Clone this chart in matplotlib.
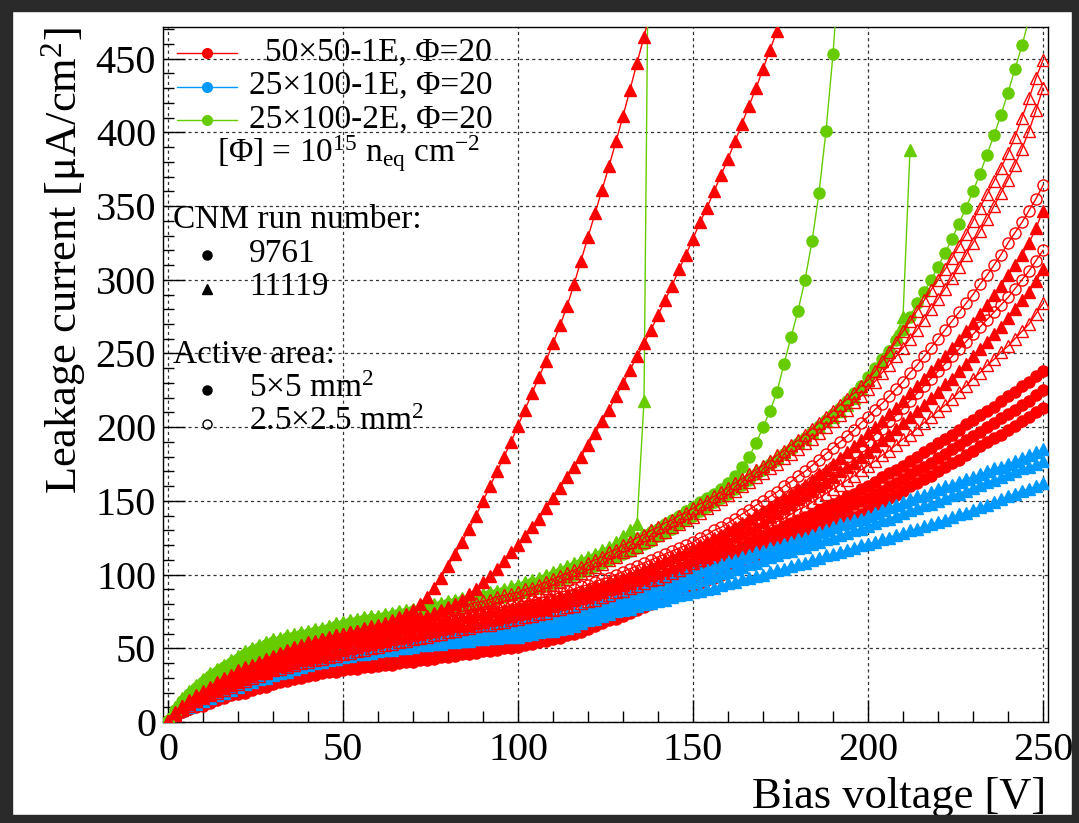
import matplotlib
matplotlib.use("Agg")
import matplotlib.pyplot as plt
from matplotlib.patches import Rectangle

plt.rcParams['font.family'] = ['Liberation Serif', 'DejaVu Serif']
plt.rcParams['mathtext.fontset'] = 'custom'
plt.rcParams['mathtext.rm'] = 'Liberation Serif'
plt.rcParams['mathtext.it'] = 'Liberation Serif:italic'

W, H = 1079, 823

# Bias sweep: 2 V steps from 0 V to 250 V
VOLTS = list(range(0, 252, 2))

RED = '#ff0000'
BLUE = '#0099ff'
GREEN = '#66cc00'

# ---- 50x50-1E (red) -------------------------------------------------------
# run 11119, 5x5 mm2 (filled triangles) - early breakdown
r_tri_bd1 = [1, 6, 10, 14, 17, 20, 23, 26, 29, 31,
             34, 36, 38, 40, 42, 44, 46, 48, 50, 51,
             53, 54, 56, 57, 59, 60, 61, 62, 64, 65,
             66, 67, 69, 71, 73, 76, 80, 85, 91, 98,
             106, 114, 122, 131, 140, 150, 160, 170, 180, 190,
             201, 212, 223, 234, 245, 257, 269, 282, 297, 313,
             329, 345, 361, 377, 394, 411, 429, 447, 465, 483]
r_tri_bd2 = [1, 6, 10, 13, 16, 19, 22, 25, 27, 30,
             32, 34, 36, 38, 40, 42, 44, 45, 47, 48,
             50, 51, 53, 54, 56, 57, 58, 59, 61, 62,
             63, 64, 65, 66, 67, 69, 70, 72, 74, 76,
             78, 80, 83, 87, 90, 95, 99, 104, 109, 115,
             120, 126, 132, 138, 145, 152, 159, 166, 173, 180,
             188, 196, 204, 212, 221, 230, 239, 248, 257, 266,
             276, 286, 296, 307, 317, 328, 339, 349, 360, 371,
             382, 394, 406, 418, 430, 443, 456, 469, 482]
r_tri_a = [1, 6, 9, 12, 15, 18, 21, 23, 26, 28,
           30, 32, 34, 36, 38, 40, 42, 43, 45, 46,
           48, 49, 51, 52, 54, 55, 56, 57, 58, 59,
           60, 61, 62, 63, 64, 65, 65, 66, 67, 68,
           69, 70, 71, 72, 73, 74, 75, 75, 76, 77,
           78, 79, 80, 81, 82, 83, 85, 86, 87, 89,
           90, 92, 93, 95, 96, 98, 100, 102, 104, 106,
           108, 110, 112, 114, 116, 118, 120, 122, 125, 127,
           130, 132, 135, 138, 141, 143, 146, 149, 152, 155,
           158, 161, 164, 168, 171, 175, 179, 183, 187, 191,
           196, 200, 204, 209, 213, 218, 223, 228, 233, 238,
           243, 248, 254, 259, 265, 271, 277, 283, 290, 296,
           303, 310, 317, 325, 335, 347]
r_tri_b = [1, 5, 9, 12, 14, 17, 19, 21, 23, 25,
           27, 29, 31, 33, 34, 36, 38, 39, 40, 42,
           43, 44, 45, 46, 47, 49, 50, 51, 52, 53,
           54, 55, 56, 57, 58, 59, 60, 61, 62, 63,
           64, 65, 65, 66, 67, 68, 69, 70, 71, 72,
           73, 74, 75, 76, 77, 79, 80, 81, 83, 84,
           85, 87, 88, 90, 91, 93, 94, 96, 98, 100,
           101, 103, 105, 107, 109, 112, 114, 116, 118, 121,
           123, 126, 128, 131, 133, 136, 139, 142, 145, 148,
           151, 154, 157, 160, 163, 166, 170, 173, 176, 180,
           183, 187, 191, 195, 199, 203, 207, 211, 215, 220,
           224, 229, 233, 238, 243, 248, 253, 258, 263, 268,
           274, 280, 286, 292, 299, 307]
# run 11119, 2.5x2.5 mm2 (open triangles)
r_otri_a = [1, 7, 11, 15, 18, 21, 24, 27, 30, 32,
            35, 37, 39, 41, 43, 45, 47, 49, 51, 52,
            54, 55, 56, 58, 59, 60, 61, 62, 63, 64,
            65, 66, 67, 68, 69, 70, 71, 72, 73, 74,
            76, 77, 78, 80, 81, 82, 83, 85, 86, 87,
            88, 90, 91, 93, 95, 97, 99, 101, 103, 105,
            108, 110, 112, 115, 117, 120, 122, 125, 127, 130,
            132, 135, 137, 140, 142, 145, 148, 150, 153, 156,
            159, 162, 165, 168, 171, 174, 177, 181, 184, 188,
            191, 195, 199, 203, 207, 211, 215, 219, 223, 228,
            232, 238, 245, 251, 258, 265, 272, 279, 286, 293,
            300, 307, 315, 323, 331, 340, 349, 358, 367, 376,
            386, 397, 410, 423, 437, 449]
r_otri_b = [1, 6, 11, 14, 17, 20, 23, 26, 28, 31,
            33, 35, 37, 39, 41, 43, 45, 47, 49, 50,
            52, 53, 54, 56, 57, 58, 59, 60, 61, 62,
            63, 64, 65, 66, 67, 68, 69, 70, 71, 72,
            73, 74, 75, 76, 77, 78, 79, 81, 82, 83,
            84, 86, 87, 89, 91, 93, 95, 97, 99, 101,
            103, 105, 107, 110, 112, 115, 117, 119, 122, 124,
            127, 129, 132, 134, 137, 139, 142, 145, 148, 151,
            154, 157, 160, 163, 166, 169, 172, 175, 179, 182,
            185, 189, 192, 196, 200, 204, 208, 212, 217, 221,
            226, 231, 237, 242, 248, 254, 260, 266, 273, 280,
            287, 294, 301, 309, 317, 325, 333, 341, 350, 359,
            368, 378, 389, 401, 415, 430]
r_otri_c = [1, 5, 8, 11, 14, 16, 18, 20, 22, 24,
            26, 28, 30, 31, 33, 35, 36, 37, 39, 40,
            41, 42, 43, 44, 45, 46, 47, 48, 49, 50,
            51, 52, 53, 54, 55, 56, 57, 58, 59, 60,
            61, 62, 63, 64, 65, 66, 66, 67, 68, 69,
            70, 71, 72, 73, 74, 76, 77, 78, 79, 81,
            82, 83, 85, 86, 88, 89, 91, 92, 94, 96,
            97, 99, 101, 103, 105, 108, 110, 112, 114, 116,
            118, 121, 123, 126, 128, 130, 133, 136, 138, 141,
            144, 146, 149, 152, 155, 158, 161, 164, 167, 171,
            174, 177, 181, 184, 188, 192, 195, 199, 203, 207,
            211, 215, 219, 224, 228, 233, 237, 242, 246, 251,
            255, 260, 265, 270, 277, 284]
# run 9761, 2.5x2.5 mm2 (open circles)
r_ocir_a = [1, 6, 10, 13, 16, 19, 22, 24, 27, 29,
            31, 33, 35, 37, 39, 41, 43, 44, 46, 47,
            49, 50, 52, 53, 55, 56, 57, 58, 59, 60,
            61, 62, 63, 64, 65, 66, 67, 68, 69, 70,
            71, 72, 73, 74, 75, 76, 77, 77, 78, 79,
            80, 81, 82, 84, 85, 86, 88, 89, 90, 92,
            93, 95, 97, 98, 100, 102, 104, 106, 108, 110,
            112, 114, 116, 118, 120, 122, 125, 127, 130, 132,
            135, 138, 141, 144, 147, 150, 153, 156, 160, 163,
            167, 170, 174, 178, 182, 186, 190, 194, 198, 203,
            207, 212, 216, 221, 226, 231, 237, 242, 248, 254,
            260, 266, 272, 278, 284, 290, 297, 303, 310, 317,
            325, 332, 339, 347, 355, 364]
r_ocir_b = [1, 5, 9, 12, 15, 17, 20, 22, 24, 26,
            28, 30, 32, 34, 36, 38, 39, 41, 42, 44,
            45, 46, 47, 48, 49, 51, 52, 53, 54, 55,
            56, 57, 58, 59, 60, 61, 62, 63, 64, 65,
            66, 67, 67, 68, 69, 70, 71, 72, 73, 74,
            76, 77, 78, 79, 80, 82, 83, 84, 86, 87,
            88, 90, 91, 93, 94, 96, 98, 99, 101, 103,
            105, 107, 109, 111, 113, 116, 118, 120, 123, 125,
            128, 130, 133, 135, 138, 141, 144, 147, 150, 153,
            156, 159, 163, 166, 169, 173, 176, 180, 183, 187,
            190, 195, 199, 204, 208, 213, 218, 223, 228, 233,
            238, 243, 248, 253, 258, 263, 268, 273, 278, 283,
            288, 294, 300, 306, 313, 320]
# run 9761, 5x5 mm2 (filled circles)
r_cir_a = [1, 5, 8, 10, 12, 13, 15, 17, 18, 20,
           21, 22, 24, 25, 27, 28, 29, 30, 32, 33,
           34, 35, 36, 37, 37, 38, 39, 40, 40, 41,
           42, 43, 43, 44, 45, 45, 46, 47, 48, 49,
           50, 51, 51, 52, 53, 54, 55, 56, 57, 58,
           59, 60, 61, 62, 63, 64, 66, 67, 69, 70,
           72, 74, 76, 78, 80, 82, 84, 86, 89, 91,
           93, 95, 97, 100, 102, 104, 106, 108, 111, 113,
           115, 117, 119, 122, 124, 126, 128, 130, 133, 135,
           137, 139, 141, 144, 146, 148, 150, 153, 155, 158,
           160, 163, 166, 169, 171, 174, 177, 180, 183, 186,
           189, 192, 195, 198, 202, 205, 208, 211, 214, 218,
           221, 224, 228, 231, 235, 238]
r_cir_b = [1, 4, 7, 9, 11, 12, 14, 16, 17, 19,
           20, 21, 23, 24, 25, 27, 28, 29, 30, 31,
           32, 33, 34, 35, 35, 36, 37, 38, 38, 39,
           40, 41, 41, 42, 43, 43, 44, 45, 46, 46,
           47, 48, 48, 49, 50, 51, 51, 52, 53, 54,
           55, 56, 57, 58, 59, 60, 62, 63, 64, 66,
           67, 69, 71, 73, 75, 77, 79, 81, 83, 85,
           87, 89, 91, 93, 96, 98, 100, 102, 104, 106,
           108, 110, 112, 115, 117, 119, 121, 123, 126, 128,
           130, 132, 134, 137, 139, 141, 143, 145, 148, 150,
           152, 155, 157, 160, 162, 165, 168, 171, 173, 176,
           179, 182, 185, 188, 191, 194, 197, 200, 203, 206,
           209, 212, 215, 218, 222, 225]
r_cir_c = [1, 4, 7, 9, 10, 11, 13, 15, 16, 18,
           19, 20, 22, 23, 24, 26, 27, 28, 29, 30,
           31, 32, 33, 34, 34, 35, 36, 36, 37, 37,
           38, 39, 39, 40, 41, 41, 42, 42, 43, 44,
           44, 45, 46, 46, 47, 48, 48, 49, 50, 50,
           51, 52, 53, 54, 55, 56, 57, 59, 60, 61,
           63, 65, 67, 69, 70, 72, 74, 76, 78, 80,
           82, 84, 86, 88, 90, 92, 94, 96, 98, 100,
           102, 104, 106, 108, 110, 112, 114, 116, 118, 121,
           123, 125, 127, 129, 131, 133, 135, 137, 139, 141,
           144, 147, 149, 152, 154, 157, 160, 162, 165, 167,
           170, 173, 176, 178, 181, 184, 187, 190, 193, 195,
           198, 201, 204, 207, 210, 213]

# ---- 25x100-1E (blue), run 11119, 5x5 mm2 ----------------------------------
b_tri_a = [1, 6, 10, 13, 15, 18, 20, 22, 24, 26,
           29, 31, 32, 34, 36, 38, 39, 41, 42, 44,
           45, 46, 47, 48, 50, 51, 52, 52, 53, 54,
           55, 56, 57, 57, 58, 59, 60, 60, 61, 61,
           62, 63, 63, 64, 64, 65, 66, 66, 67, 67,
           68, 69, 69, 70, 71, 72, 73, 74, 75, 77,
           78, 80, 81, 83, 84, 86, 88, 89, 91, 92,
           94, 95, 97, 98, 100, 101, 103, 104, 106, 107,
           109, 110, 112, 113, 115, 116, 118, 119, 121, 122,
           124, 125, 127, 129, 130, 132, 134, 135, 137, 138,
           140, 142, 144, 146, 147, 149, 151, 153, 154, 156,
           158, 160, 161, 163, 165, 166, 168, 170, 172, 173,
           175, 177, 179, 181, 183, 185]
b_tri_b = [1, 6, 9, 12, 14, 16, 18, 20, 22, 24,
           27, 29, 30, 32, 34, 36, 37, 39, 40, 42,
           43, 44, 45, 46, 47, 48, 49, 50, 51, 51,
           52, 53, 53, 54, 54, 55, 56, 56, 57, 57,
           58, 58, 59, 59, 60, 60, 61, 61, 62, 62,
           63, 64, 64, 65, 66, 67, 68, 69, 70, 71,
           73, 74, 76, 77, 79, 80, 82, 83, 85, 86,
           88, 89, 91, 92, 94, 95, 96, 98, 99, 101,
           102, 104, 105, 107, 108, 110, 112, 113, 115, 116,
           118, 119, 121, 122, 124, 125, 127, 128, 130, 131,
           133, 135, 137, 138, 140, 142, 144, 145, 147, 148,
           150, 152, 154, 155, 157, 159, 161, 163, 164, 166,
           168, 170, 172, 173, 175, 177]
b_tri_c = [1, 5, 8, 10, 12, 14, 16, 18, 20, 22,
           24, 26, 27, 29, 30, 32, 33, 34, 36, 37,
           39, 40, 41, 42, 43, 44, 45, 46, 46, 47,
           48, 49, 49, 50, 50, 51, 52, 52, 53, 53,
           54, 54, 55, 55, 56, 56, 57, 57, 58, 58,
           58, 59, 60, 61, 62, 62, 63, 64, 65, 67,
           69, 70, 72, 73, 75, 76, 77, 79, 80, 81,
           82, 83, 85, 86, 87, 88, 89, 90, 91, 93,
           94, 95, 97, 98, 99, 100, 102, 103, 104, 106,
           107, 108, 110, 111, 113, 114, 115, 117, 118, 120,
           121, 122, 124, 125, 127, 128, 130, 131, 133, 134,
           136, 137, 139, 141, 142, 144, 146, 147, 149, 151,
           153, 155, 157, 158, 160, 162]

# ---- 25x100-2E (green) -----------------------------------------------------
g_tri_bd1 = [2, 10, 16, 21, 25, 29, 33, 36, 39, 42,
             45, 48, 50, 52, 54, 56, 57, 59, 60, 61,
             62, 63, 64, 65, 67, 68, 69, 70, 71, 72,
             72, 73, 74, 75, 76, 77, 78, 79, 80, 81,
             82, 83, 84, 85, 86, 87, 88, 89, 90, 92,
             93, 95, 96, 98, 100, 102, 104, 106, 108, 110,
             112, 114, 117, 119, 122, 126, 130, 134, 218, 720]
g_tri_bd2 = [2, 9, 15, 20, 24, 28, 32, 35, 38, 41,
             44, 47, 49, 51, 53, 55, 56, 58, 59, 60,
             61, 62, 63, 64, 66, 67, 68, 69, 70, 71,
             71, 72, 73, 74, 75, 76, 77, 78, 79, 80,
             81, 82, 83, 84, 85, 86, 87, 88, 89, 90,
             92, 93, 95, 96, 98, 100, 102, 104, 106, 108,
             110, 112, 114, 116, 118, 120, 122, 125, 127, 130,
             132, 135, 137, 140, 143, 146, 148, 151, 153, 156,
             159, 162, 165, 168, 171, 174, 177, 180, 183, 187,
             190, 193, 197, 200, 204, 207, 211, 215, 220, 226,
             232, 238, 245, 252, 262, 275, 388]
g_cir_bd = [1, 8, 14, 19, 23, 27, 31, 34, 37, 40,
            43, 46, 48, 50, 52, 54, 55, 57, 58, 59,
            60, 61, 62, 63, 65, 66, 67, 68, 69, 70,
            70, 71, 72, 73, 74, 75, 76, 77, 78, 79,
            80, 81, 82, 83, 84, 85, 86, 87, 88, 89,
            91, 92, 94, 95, 97, 99, 101, 103, 105, 107,
            109, 111, 113, 115, 117, 119, 121, 124, 126, 129,
            131, 134, 137, 140, 143, 146, 149, 152, 155, 158,
            162, 167, 173, 180, 189, 200, 211, 224, 243, 261,
            279, 300, 326, 359, 401, 453, 520]
g_cir_a = [1, 7, 12, 17, 21, 25, 28, 31, 34, 37,
           40, 42, 44, 46, 48, 50, 51, 53, 54, 55,
           57, 58, 59, 60, 61, 62, 63, 64, 65, 66,
           67, 68, 69, 70, 71, 72, 73, 74, 75, 76,
           77, 78, 79, 80, 81, 82, 83, 84, 85, 86,
           87, 88, 90, 91, 93, 94, 96, 98, 100, 102,
           104, 106, 108, 110, 112, 114, 116, 118, 121, 123,
           126, 128, 131, 134, 137, 140, 143, 146, 149, 152,
           155, 158, 161, 164, 168, 171, 175, 178, 182, 185,
           189, 193, 197, 201, 205, 209, 213, 218, 223, 228,
           234, 240, 246, 252, 259, 266, 275, 284, 292, 300,
           309, 318, 328, 338, 349, 360, 372, 385, 398, 412,
           427, 443, 459, 477, 495, 515]

fig = plt.figure(figsize=(W / 100, H / 100), dpi=100)
ax = fig.add_axes([163 / W, 1 - 722 / H, (1048 - 163) / W, (722 - 27) / H])
ax.set_xlim(-1.43, 251.43)
ax.set_ylim(0, 471.5)

ax.set_xticks(range(0, 251, 50))
ax.set_xticks(range(0, 251, 10), minor=True)
ax.set_yticks(range(0, 451, 50))
ax.set_yticks(range(0, 471, 10), minor=True)
ax.tick_params(which='major', direction='in', length=16, width=1.0,
               labelsize=29, top=False, right=False)
ax.tick_params(which='minor', direction='in', length=8, width=1.0,
               top=False, right=False)
ax.tick_params(axis='x', which='major', pad=7)
ax.tick_params(axis='y', which='major', pad=5)
for s in ax.spines.values():
    s.set_linewidth(1.0)
    s.set_color('black')
ax.grid(True, which='major', color='#333333', lw=0.9,
        linestyle=(0, (2.5, 2.5)), zorder=0)
ax.set_axisbelow(True)


def draw(vals, color, marker, filled, ms, z):
    xs = VOLTS[:len(vals)]
    ax.plot(xs, vals, color=color, lw=1.0, marker=marker, ms=ms,
            mfc=color if filled else 'none', mec=color, mew=1.0, zorder=z)


TRI = 8.2
CIR = 8.0
# drawing order: filled-circle reds, blue, remaining reds, green, top reds
draw(r_cir_a, RED, 'o', True, CIR, 2)
draw(r_cir_b, RED, 'o', True, CIR, 2)
draw(r_cir_c, RED, 'o', True, CIR, 2)
draw(b_tri_a, BLUE, '^', True, TRI, 3)
draw(b_tri_b, BLUE, '^', True, TRI, 3)
draw(b_tri_c, BLUE, '^', True, TRI, 3)
draw(r_tri_a, RED, '^', True, TRI, 4)
draw(r_tri_b, RED, '^', True, TRI, 4)
draw(r_ocir_a, RED, 'o', False, CIR, 4)
draw(r_ocir_b, RED, 'o', False, CIR, 4)
draw(r_otri_c, RED, '^', False, TRI, 4)
draw(g_cir_a, GREEN, 'o', True, CIR, 5)
draw(g_cir_bd, GREEN, 'o', True, CIR, 5)
draw(g_tri_bd2, GREEN, '^', True, TRI, 5)
draw(g_tri_bd1, GREEN, '^', True, TRI, 5)
draw(r_otri_a, RED, '^', False, TRI, 6)
draw(r_otri_b, RED, '^', False, TRI, 6)
draw(r_tri_bd1, RED, '^', True, TRI, 7)
draw(r_tri_bd2, RED, '^', True, TRI, 7)


def fx(px):
    return px / W


def fy(py):
    return 1 - py / H


# Axis titles
fig.text(fx(1046), fy(808), 'Bias voltage [V]', ha='right', va='baseline',
         fontsize=32)
fig.text(fx(64), fy(27), r'Leakage current [μA/cm$^{2}$]', ha='center',
         va='top', rotation=90, fontsize=32)

# Legend block
LEG = 24
entries = [
    (265, 60, '50×50-1E, Φ=20', RED, 53),
    (249, 93, '25×100-1E, Φ=20', BLUE, 87),
    (249, 127, '25×100-2E, Φ=20', GREEN, 120),
]
for x, yb, label, col, ym in entries:
    fig.text(fx(x), fy(yb), label, ha='left', va='baseline', fontsize=LEG)
    ax.plot([fx(177), fx(237)], [fy(ym), fy(ym)], color=col, lw=1.0,
            transform=fig.transFigure, clip_on=False, zorder=10)
    ax.plot([fx(207)], [fy(ym)], marker='o', ms=7, color=col,
            transform=fig.transFigure, clip_on=False, zorder=10)

fig.text(fx(217), fy(162),
         r'[Φ] = 10$^{15}$ n$_{\mathrm{eq}}$ cm$^{-2}$',
         ha='left', va='baseline', fontsize=LEG)
fig.text(fx(173), fy(228), 'CNM run number:', ha='left', va='baseline',
         fontsize=LEG)
fig.text(fx(249), fy(262), '9761', ha='left', va='baseline', fontsize=LEG)
fig.text(fx(249), fy(295), '11119', ha='left', va='baseline', fontsize=LEG)
fig.text(fx(173), fy(363), 'Active area:', ha='left', va='baseline',
         fontsize=LEG)
fig.text(fx(249), fy(397), r'5×5 mm$^{2}$', ha='left', va='baseline',
         fontsize=LEG)
fig.text(fx(249), fy(430), r'2.5×2.5 mm$^{2}$', ha='left', va='baseline',
         fontsize=LEG)

for ym, mk, filled in [(255, 'o', True), (289, '^', True),
                       (390, 'o', True), (424, 'o', False)]:
    ax.plot([fx(207)], [fy(ym)], marker=mk, ms=6.5, color='black',
            mfc='black' if filled else 'none', mec='black', mew=1.0,
            transform=fig.transFigure, clip_on=False, zorder=10)

# Dark window border
BORDER = '#2a2a2a'
for (x0, y0, x1, y1) in [(0, 0, 12, H), (0, 0, W, 11), (1072, 0, W, H),
                         (0, 815, W, H)]:
    fig.add_artist(Rectangle((fx(x0), fy(y1)), (x1 - x0) / W, (y1 - y0) / H,
                             transform=fig.transFigure, color=BORDER,
                             zorder=100))

fig.savefig('out.png', dpi=100)
